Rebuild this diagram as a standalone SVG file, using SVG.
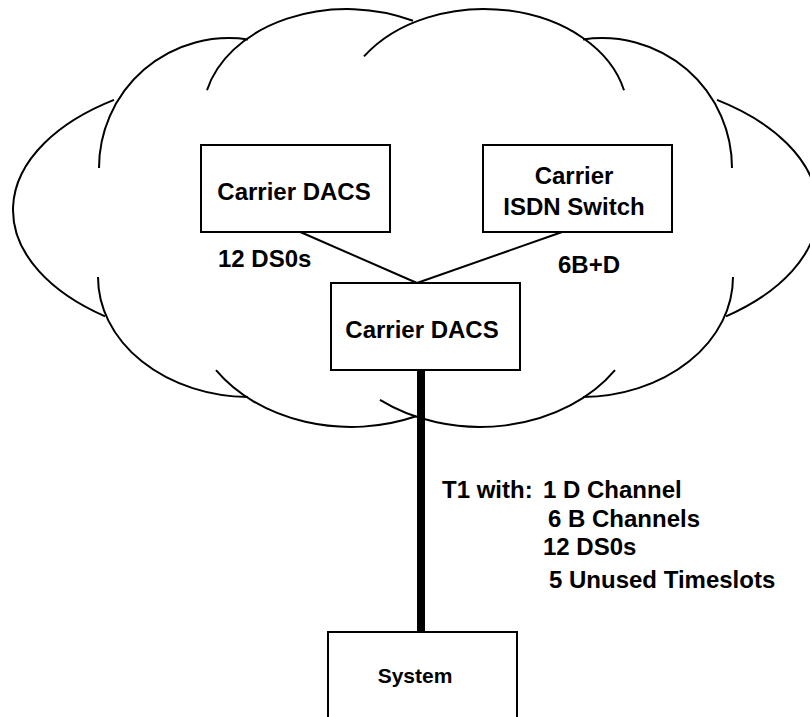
<svg xmlns="http://www.w3.org/2000/svg" width="810" height="717" viewBox="0 0 810 717">
<style>
  .cloud { fill: none; stroke: #000; stroke-width: 2; }
  .box { fill: #fff; stroke: #000; stroke-width: 2; }
  .conn { fill: none; stroke: #000; stroke-width: 2; }
  .trunk { fill: none; stroke: #000; stroke-width: 8; }
  text { font-family: "Liberation Sans", Arial, sans-serif; font-weight: bold; font-size: 24px; fill: #000; }
  .mid { text-anchor: middle; }
</style>
<rect width="810" height="717" fill="#fff"/>
<g id="cloud">
  <path class="cloud" d="M114,99.9 A235,134 0 0 0 105,316.3"/>
  <path class="cloud" d="M99,168 A130,130 0 0 1 248,39.4"/>
  <path class="cloud" d="M98,277 A152,120 0 0 0 248,397"/>
  <path class="cloud" d="M216,370.2 A162,127 0 0 0 416,416.3"/>
  <path class="cloud" d="M380,399.9 A162,127 0 0 0 615,370.2"/>
  <path class="cloud" d="M583,397 A152,120 0 0 0 733,277"/>
  <path class="cloud" d="M717,99.9 A235,134 0 0 1 726,316.3"/>
  <path class="cloud" d="M583,39.4 A130,130 0 0 1 732,168"/>
  <path class="cloud" d="M207,90.2 A144,106 0 0 1 413,20.8"/>
  <path class="cloud" d="M364,56.4 A144,106 0 0 1 624,90.2"/>
</g>
<g id="connectors">
  <line class="conn" x1="298" y1="231" x2="417" y2="283"/>
  <line class="conn" x1="565" y1="231" x2="417" y2="283"/>
  <line class="trunk" x1="421" y1="370" x2="421" y2="633"/>
</g>
<g id="dacs-top">
  <rect class="box" x="201" y="145" width="189" height="87"/>
  <text class="mid" x="294" y="200">Carrier DACS</text>
</g>
<g id="isdn-switch">
  <rect class="box" x="483" y="145" width="189" height="87"/>
  <text class="mid" x="574" y="184">Carrier</text>
  <text class="mid" x="574" y="215">ISDN Switch</text>
</g>
<g id="dacs-mid">
  <rect class="box" x="331" y="283" width="189" height="87"/>
  <text class="mid" x="422" y="338">Carrier DACS</text>
</g>
<g id="system">
  <rect class="box" x="328" y="632" width="189" height="100"/>
  <text class="mid" x="415" y="683" style="font-size:21px">System</text>
</g>
<g id="labels">
  <text x="218" y="267">12 DS0s</text>
  <text x="558" y="273">6B+D</text>
  <text x="442" y="498">T1 with:<tspan x="543">1 D Channel</tspan></text>
  <text x="548" y="527">6 B Channels</text>
  <text x="543" y="555">12 DS0s</text>
  <text x="549" y="588">5 Unused Timeslots</text>
</g>
</svg>
